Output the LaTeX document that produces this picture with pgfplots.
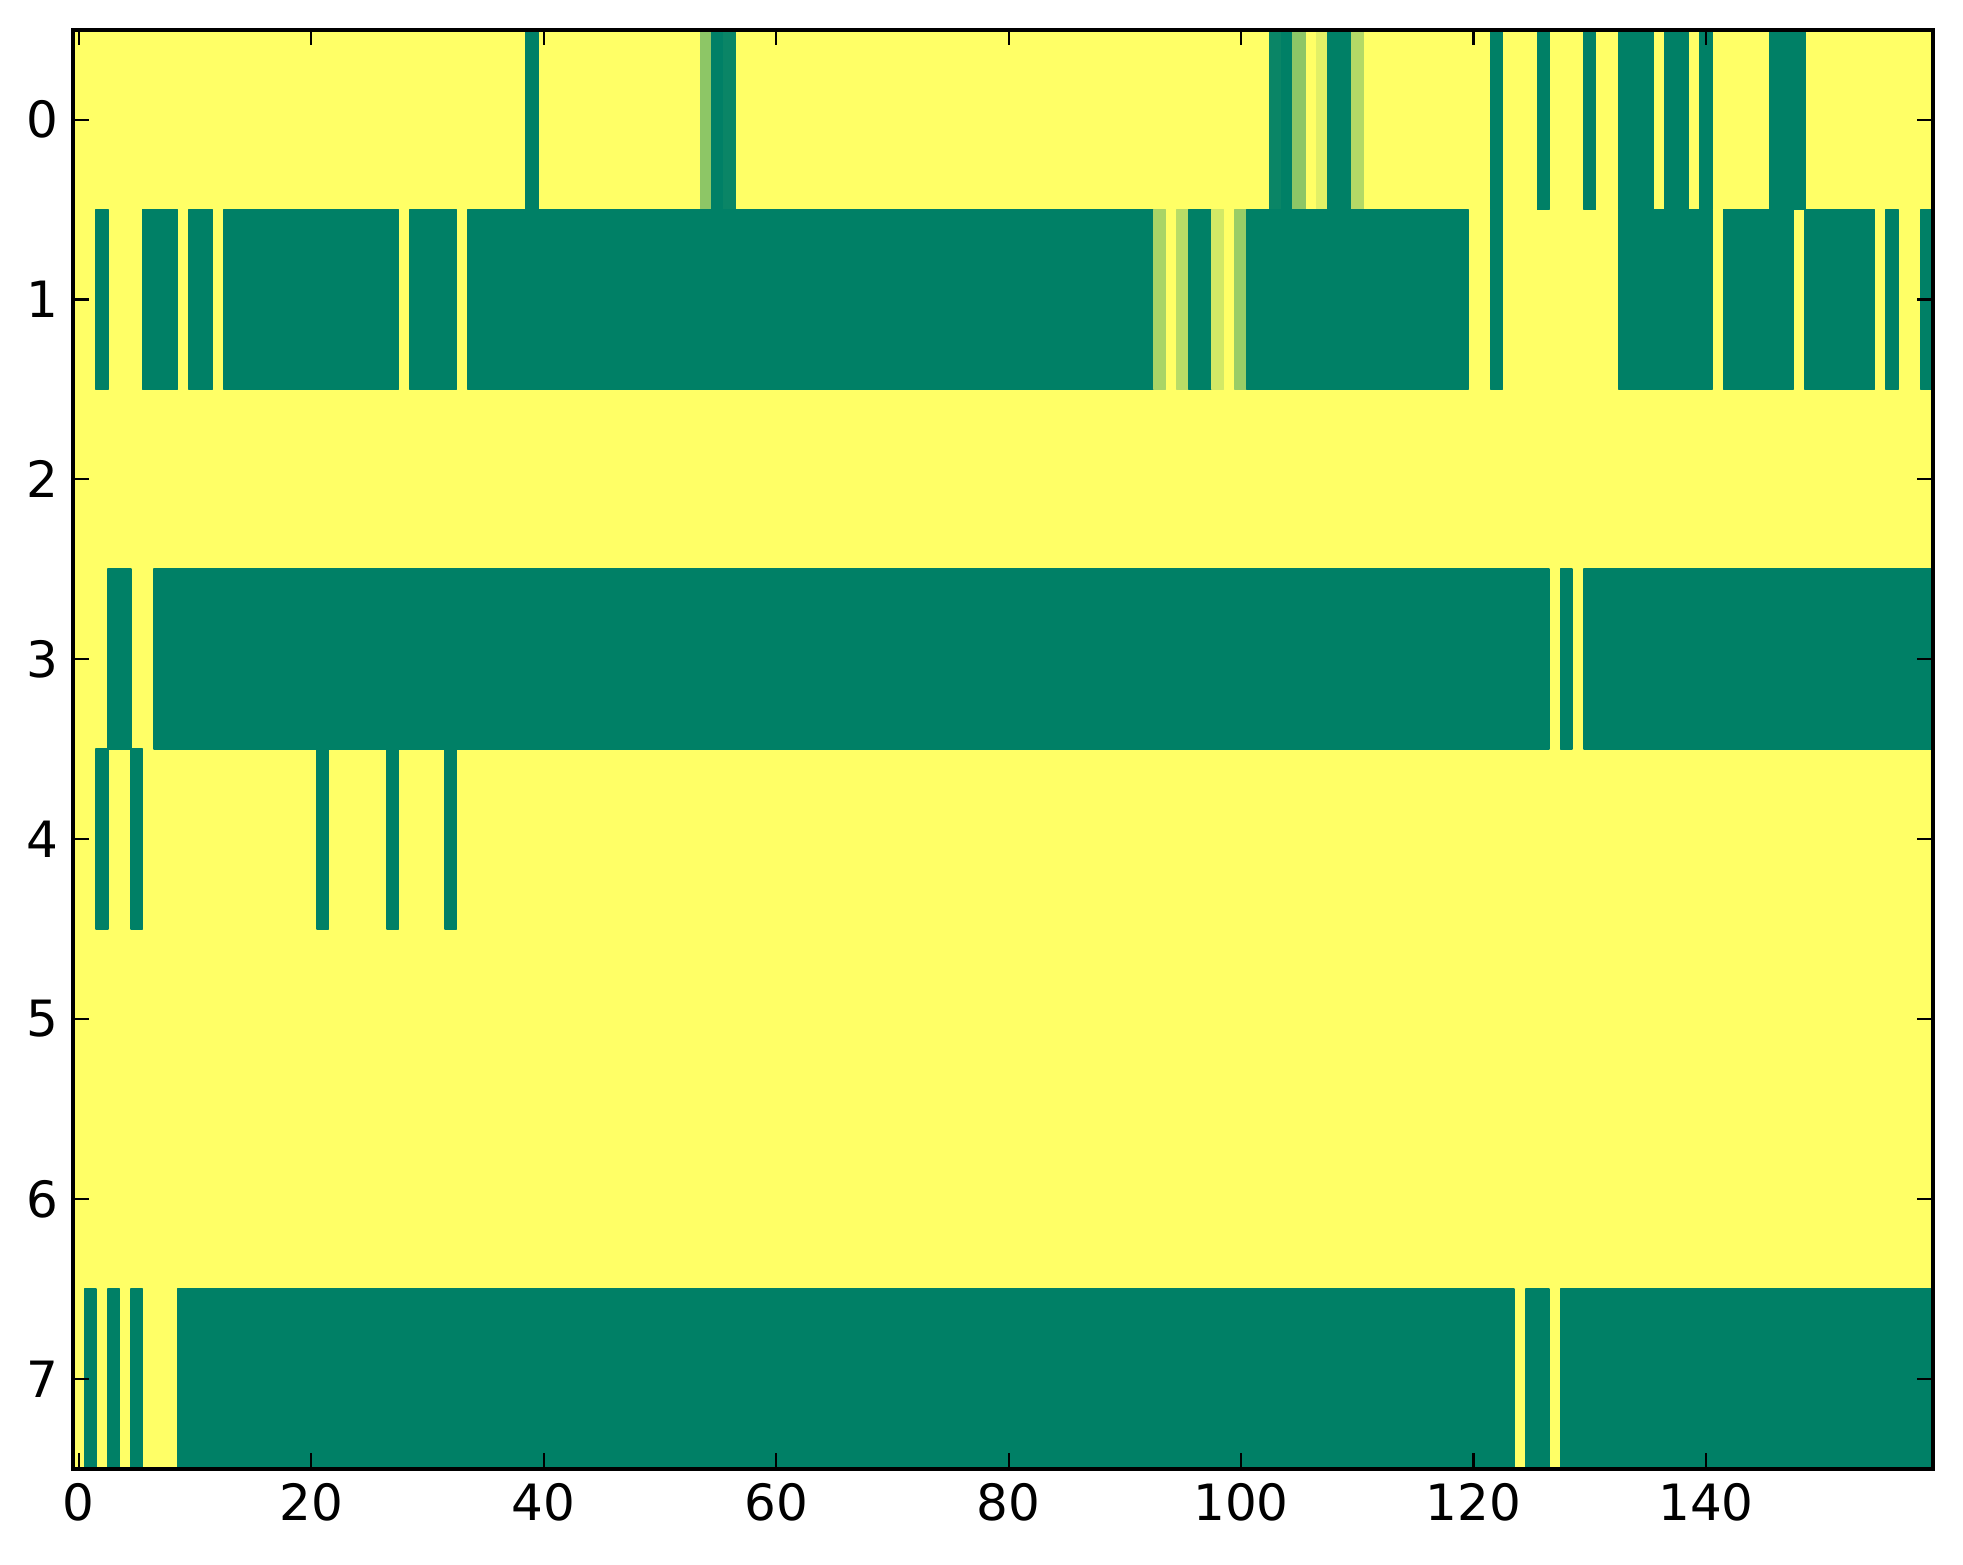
\documentclass[border=0pt]{standalone}
\usepackage{fontspec}
\setmainfont{DejaVu Sans}
\usepackage{pgfplots}
\pgfplotsset{compat=1.18}
\usepgfplotslibrary{patchplots}

\begin{document}
\begin{tikzpicture}
\begin{axis}[
  name=ax,
  scale only axis,
  width=446.3pt, height=345.4pt,
  xmin=-0.5, xmax=159.5,
  ymin=-0.5, ymax=7.5,
  y dir=reverse,
  xtick={0,20,...,140},
  ytick={0,1,...,7},
  tick align=inside,
  major tick length=3.8pt,
  tick style={black, line width=0.5pt},
  axis line style={line width=1pt},
  axis on top,
  /pgf/number format/assume math mode=true,
  tick label style={font=\fontsize{12}{14}\selectfont},
  colormap={summer}{rgb=(0,0.5,0.4) rgb=(1,1,0.4)},
  point meta min=0, point meta max=1,
]
% background: every cell at 1 (yellow)
\addplot[patch, patch type=rectangle, shader=flat, point meta=explicit] coordinates {
(-0.5,-0.5)[1] (159.5,-0.5)[1] (159.5,7.5)[1] (-0.5,7.5)[1]
};
% row 0
\addplot[patch, patch type=rectangle, shader=flat, point meta=explicit] coordinates {
(38.5,-0.5)[0] (39.5,-0.5)[0] (39.5,0.5)[0] (38.5,0.5)[0]
(53.5,-0.5)[0.55] (54.5,-0.5)[0.55] (54.5,0.5)[0.55] (53.5,0.5)[0.55]
(54.5,-0.5)[0] (55.5,-0.5)[0] (55.5,0.5)[0] (54.5,0.5)[0]
(55.5,-0.5)[0.04] (56.5,-0.5)[0.04] (56.5,0.5)[0.04] (55.5,0.5)[0.04]
(102.5,-0.5)[0.04] (103.5,-0.5)[0.04] (103.5,0.5)[0.04] (102.5,0.5)[0.04]
(103.5,-0.5)[0] (104.5,-0.5)[0] (104.5,0.5)[0] (103.5,0.5)[0]
(104.5,-0.5)[0.55] (105.5,-0.5)[0.55] (105.5,0.5)[0.55] (104.5,0.5)[0.55]
(106.5,-0.5)[0.88] (107.5,-0.5)[0.88] (107.5,0.5)[0.88] (106.5,0.5)[0.88]
(107.5,-0.5)[0] (109.5,-0.5)[0] (109.5,0.5)[0] (107.5,0.5)[0]
(109.5,-0.5)[0.70] (110.5,-0.5)[0.70] (110.5,0.5)[0.70] (109.5,0.5)[0.70]
(121.5,-0.5)[0] (122.5,-0.5)[0] (122.5,0.5)[0] (121.5,0.5)[0]
(125.5,-0.5)[0] (126.5,-0.5)[0] (126.5,0.5)[0] (125.5,0.5)[0]
(129.5,-0.5)[0] (130.5,-0.5)[0] (130.5,0.5)[0] (129.5,0.5)[0]
(132.5,-0.5)[0] (135.5,-0.5)[0] (135.5,0.5)[0] (132.5,0.5)[0]
(136.5,-0.5)[0] (138.5,-0.5)[0] (138.5,0.5)[0] (136.5,0.5)[0]
(139.5,-0.5)[0] (140.5,-0.5)[0] (140.5,0.5)[0] (139.5,0.5)[0]
(145.5,-0.5)[0] (148.5,-0.5)[0] (148.5,0.5)[0] (145.5,0.5)[0]
};
% row 1
\addplot[patch, patch type=rectangle, shader=flat, point meta=explicit] coordinates {
(1.5,0.5)[0] (2.5,0.5)[0] (2.5,1.5)[0] (1.5,1.5)[0]
(5.5,0.5)[0] (8.5,0.5)[0] (8.5,1.5)[0] (5.5,1.5)[0]
(9.5,0.5)[0] (11.5,0.5)[0] (11.5,1.5)[0] (9.5,1.5)[0]
(12.5,0.5)[0] (27.5,0.5)[0] (27.5,1.5)[0] (12.5,1.5)[0]
(28.5,0.5)[0] (32.5,0.5)[0] (32.5,1.5)[0] (28.5,1.5)[0]
(33.5,0.5)[0] (92.5,0.5)[0] (92.5,1.5)[0] (33.5,1.5)[0]
(92.5,0.5)[0.66] (93.5,0.5)[0.66] (93.5,1.5)[0.66] (92.5,1.5)[0.66]
(94.5,0.5)[0.72] (95.5,0.5)[0.72] (95.5,1.5)[0.72] (94.5,1.5)[0.72]
(95.5,0.5)[0] (97.5,0.5)[0] (97.5,1.5)[0] (95.5,1.5)[0]
(97.5,0.5)[0.82] (98.5,0.5)[0.82] (98.5,1.5)[0.82] (97.5,1.5)[0.82]
(99.5,0.5)[0.60] (100.5,0.5)[0.60] (100.5,1.5)[0.60] (99.5,1.5)[0.60]
(100.5,0.5)[0] (119.5,0.5)[0] (119.5,1.5)[0] (100.5,1.5)[0]
(121.5,0.5)[0] (122.5,0.5)[0] (122.5,1.5)[0] (121.5,1.5)[0]
(132.5,0.5)[0] (140.5,0.5)[0] (140.5,1.5)[0] (132.5,1.5)[0]
(141.5,0.5)[0] (147.5,0.5)[0] (147.5,1.5)[0] (141.5,1.5)[0]
(148.5,0.5)[0] (154.5,0.5)[0] (154.5,1.5)[0] (148.5,1.5)[0]
(155.5,0.5)[0] (156.5,0.5)[0] (156.5,1.5)[0] (155.5,1.5)[0]
(158.5,0.5)[0] (159.5,0.5)[0] (159.5,1.5)[0] (158.5,1.5)[0]
};
% row 3
\addplot[patch, patch type=rectangle, shader=flat, point meta=explicit] coordinates {
(2.5,2.5)[0] (4.5,2.5)[0] (4.5,3.5)[0] (2.5,3.5)[0]
(6.5,2.5)[0] (126.5,2.5)[0] (126.5,3.5)[0] (6.5,3.5)[0]
(127.5,2.5)[0] (128.5,2.5)[0] (128.5,3.5)[0] (127.5,3.5)[0]
(129.5,2.5)[0] (159.5,2.5)[0] (159.5,3.5)[0] (129.5,3.5)[0]
};
% row 4
\addplot[patch, patch type=rectangle, shader=flat, point meta=explicit] coordinates {
(1.5,3.5)[0] (2.5,3.5)[0] (2.5,4.5)[0] (1.5,4.5)[0]
(4.5,3.5)[0] (5.5,3.5)[0] (5.5,4.5)[0] (4.5,4.5)[0]
(20.5,3.5)[0] (21.5,3.5)[0] (21.5,4.5)[0] (20.5,4.5)[0]
(26.5,3.5)[0] (27.5,3.5)[0] (27.5,4.5)[0] (26.5,4.5)[0]
(31.5,3.5)[0] (32.5,3.5)[0] (32.5,4.5)[0] (31.5,4.5)[0]
};
% row 7
\addplot[patch, patch type=rectangle, shader=flat, point meta=explicit] coordinates {
(0.5,6.5)[0] (1.5,6.5)[0] (1.5,7.5)[0] (0.5,7.5)[0]
(2.5,6.5)[0] (3.5,6.5)[0] (3.5,7.5)[0] (2.5,7.5)[0]
(4.5,6.5)[0] (5.5,6.5)[0] (5.5,7.5)[0] (4.5,7.5)[0]
(8.5,6.5)[0] (123.5,6.5)[0] (123.5,7.5)[0] (8.5,7.5)[0]
(124.5,6.5)[0] (126.5,6.5)[0] (126.5,7.5)[0] (124.5,7.5)[0]
(127.5,6.5)[0] (159.5,6.5)[0] (159.5,7.5)[0] (127.5,7.5)[0]
};
\end{axis}
% white margin round the axis, as in the figure
\path ([shift={(-17.5pt,-22.9pt)}]ax.south west) rectangle ([shift={(7.3pt,7.1pt)}]ax.north east);
\end{tikzpicture}
\end{document}
